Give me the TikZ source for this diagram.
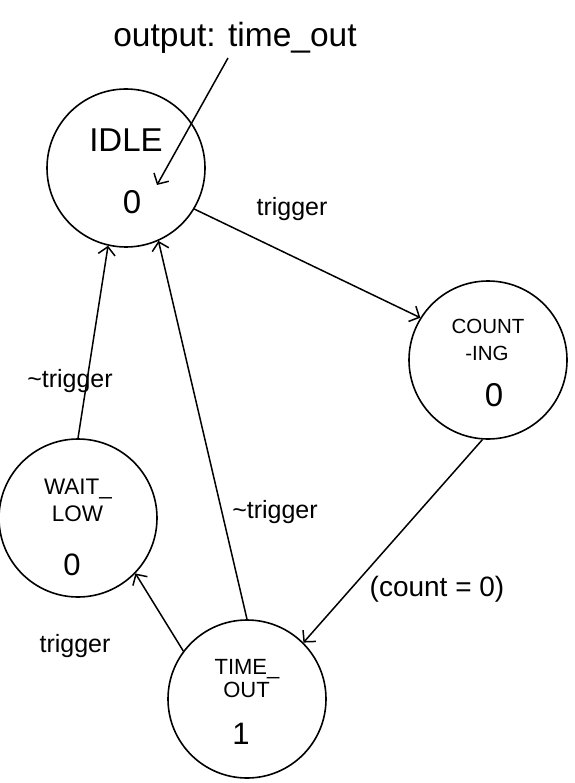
\documentclass[tikz,border=0pt]{standalone}
\usepackage{fontspec}
\setmainfont{Liberation Sans}
\usetikzlibrary{arrows.meta}
\begin{document}
\begin{tikzpicture}[x=1pt,y=-1pt,
  state/.style={draw,circle,minimum size=158pt,inner sep=0pt,line width=1.6pt},
  lbl/.style={anchor=base,inner sep=0pt},
  edge/.style={line width=1.5pt,-{Straight Barb[length=8pt,width=17pt,line width=1.5pt]}}]
\useasboundingbox (0,0) rectangle (574,783);
% states
\node[state] (idle) at (126,168) {};
\node[state] (count) at (488,360) {};
\node[state] (wait) at (78,518) {};
\node[state] (time) at (247,699) {};
% state texts
\node[lbl,font=\fontsize{33}{36}\selectfont] (tidle) at (126,152) {IDLE};
\node[lbl,font=\fontsize{33}{36}\selectfont] (oidle) at (132,214) {0};
\node[lbl,font=\fontsize{20.5}{24}\selectfont] (tcount1) at (488,333) {COUNT};
\node[lbl,font=\fontsize{20.5}{24}\selectfont] (tcount2) at (487,360) {-ING};
\node[lbl,font=\fontsize{33}{36}\selectfont] (ocount) at (494,406) {0};
\node[lbl,font=\fontsize{22.5}{26}\selectfont] (twait1) at (78,494) {WAIT\_};
\node[lbl,font=\fontsize{22.5}{26}\selectfont] (twait2) at (77.5,521) {LOW};
\node[lbl,font=\fontsize{31}{34}\selectfont] (owait) at (72,575) {0};
\node[lbl,font=\fontsize{22}{26}\selectfont] (ttime1) at (247,674) {TIME\_};
\node[lbl,font=\fontsize{22}{26}\selectfont] (ttime2) at (246.5,697) {OUT};
\node[lbl,font=\fontsize{31}{34}\selectfont] (otime) at (241,744) {1};
% output note
\node[lbl,font=\fontsize{33.5}{38}\selectfont] (out) at (235,47) {output: time\_out};
\coordinate (outstart) at (228,58);
\coordinate (outtip) at (157,185);
\draw[edge] (outstart) -- (outtip);
% transitions
\draw[edge] (idle.-31) -- (count.148);
\draw[edge] (count.-94) -- (time.45.5);
\draw[edge] (time.143.7) -- (wait.-44.5);
\draw[edge] (wait.90) -- (idle.-103);
\draw[edge] (time.90) -- (idle.-66);
% labels
\node[lbl,font=\fontsize{25}{30}\selectfont] (l1) at (292,216) {trigger};
\node[lbl,font=\fontsize{28}{32}\selectfont] (l2) at (437,596) {(count = 0)};
\node[lbl,font=\fontsize{25}{30}\selectfont] (l3) at (75,652) {trigger};
\node[lbl,font=\fontsize{25}{30}\selectfont] (l4) at (70,387) {\textasciitilde trigger};
\node[lbl,font=\fontsize{25}{30}\selectfont] (l5) at (275,518) {\textasciitilde trigger};
\end{tikzpicture}
\end{document}
